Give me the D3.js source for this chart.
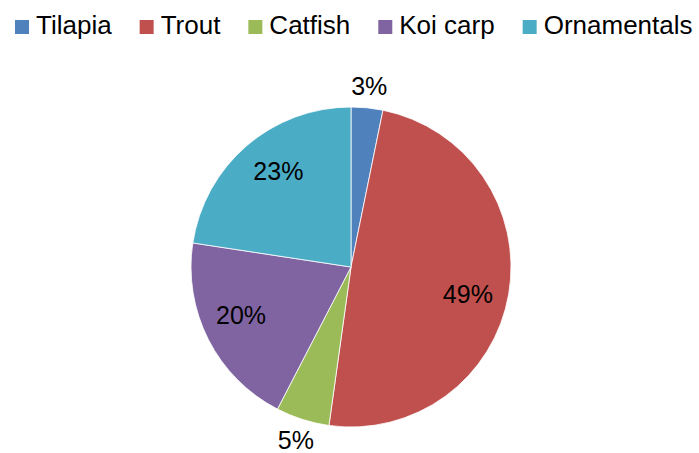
<!DOCTYPE html>
<html>
<head>
<meta charset="utf-8">
<script src="https://cdn.jsdelivr.net/npm/d3@7"></script>
<style>
    body { margin: 0; background: #fff; }
    svg { font-family: "Liberation Sans", Arial, sans-serif; }
</style>
</head>
<body>
<svg id="svg" width="699" height="453"></svg>
<script>
// categories and shares (percent)
var categories = ["Tilapia", "Trout", "Catfish", "Koi carp", "Ornamentals"];
var shares = [3.2, 49.0, 5.4, 19.8, 22.6];
var colors = ["#4F81BD", "#C0504D", "#9BBB59", "#8064A2", "#4BACC6"];
// labels placed outside the pie for the small slices
var outside = [true, false, true, false, false];

var svg = d3.select("#svg");
var cx = 351, cy = 267, radius = 160;

var data = categories.map(function(c, i) {
    return { name: c, value: shares[i], color: colors[i], outside: outside[i] };
});

var pie = d3.pie().sort(null).value(function(d) { return d.value; });
var arc = d3.arc().innerRadius(0).outerRadius(radius);
var inLabel = d3.arc().innerRadius(120).outerRadius(120);
var outLabel = d3.arc().innerRadius(182).outerRadius(182);

var g = svg.append("g").attr("transform", "translate(" + cx + "," + cy + ")");
var arcs = pie(data);

g.selectAll("path")
    .data(arcs)
    .enter().append("path")
    .attr("d", arc)
    .attr("fill", function(d) { return d.data.color; })
    .attr("stroke", "#fff")
    .attr("stroke-width", 0.8);

// inside labels sit a little clockwise of the slice middle, as in the original
g.selectAll("text.lbl")
    .data(arcs)
    .enter().append("text")
    .attr("class", "lbl")
    .attr("transform", function(d) {
        var p;
        if (d.data.outside) {
            p = outLabel.centroid(d);
        } else {
            var a = (d.startAngle + d.endAngle) / 2 + 0.06;
            p = inLabel.centroid({ startAngle: a, endAngle: a });
        }
        return "translate(" + p + ")";
    })
    .attr("text-anchor", "middle")
    .attr("dy", "0.35em")
    .style("font-size", "25px")
    .attr("fill", "#000")
    .text(function(d) { return Math.round(d.data.value) + "%"; });

// legend across the top
var legend = svg.append("g");
var x = 15;
data.forEach(function(d) {
    legend.append("rect")
        .attr("x", x).attr("y", 20)
        .attr("width", 14).attr("height", 14)
        .attr("fill", d.color);
    var t = legend.append("text")
        .attr("x", x + 21).attr("y", 34)
        .style("font-size", "26px")
        .attr("fill", "#000")
        .text(d.name);
    x = x + 21 + t.node().getComputedTextLength() + 28;
});
</script>
</body>
</html>
